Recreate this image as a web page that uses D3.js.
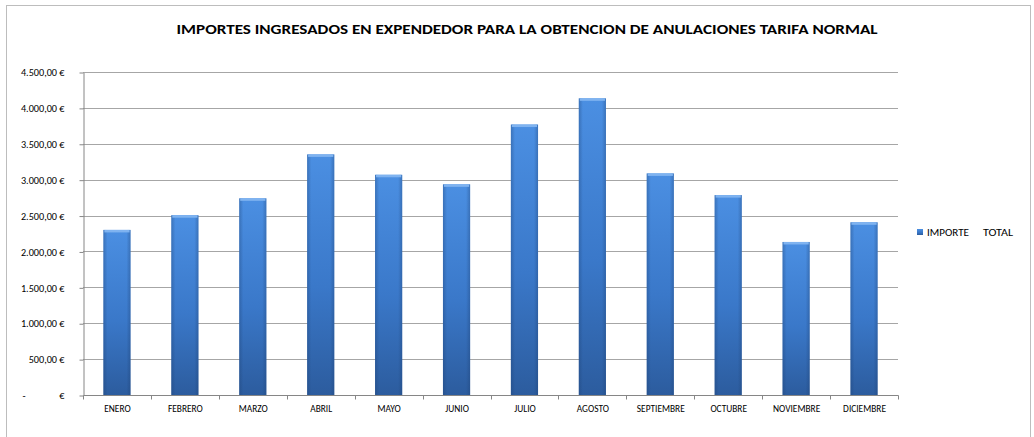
<!DOCTYPE html>
<html>
<head>
<meta charset="utf-8">
<script src="https://cdn.jsdelivr.net/npm/d3@7"></script>
<style>
  body { margin: 0; background: #fff; }
  text { font-family: Carlito, Calibri, Lato, "Open Sans", sans-serif; }
</style>
</head>
<body>
<svg id="chart" width="1034" height="437"></svg>
<script>
var months = ['ENERO', 'FEBRERO', 'MARZO', 'ABRIL', 'MAYO', 'JUNIO', 'JULIO',
              'AGOSTO', 'SEPTIEMBRE', 'OCTUBRE', 'NOVIEMBRE', 'DICIEMBRE'];
var importeTotal = [2300, 2505, 2740, 3352, 3068, 2935, 3768, 4133, 3087, 2785, 2132, 2406];
var yTicks = [0, 500, 1000, 1500, 2000, 2500, 3000, 3500, 4000, 4500];
var title = 'IMPORTES INGRESADOS EN EXPENDEDOR PARA LA OBTENCION DE ANULACIONES TARIFA NORMAL';
var seriesName = ['IMPORTE', 'TOTAL'];

var svg = d3.select('#chart');
var margin = { left: 83, right: 136, top: 72, bottom: 42 };
var W = 1034, H = 437;

// outer chart frame
svg.append('rect')
  .attr('x', 6.5).attr('y', 5.5)
  .attr('width', 1024).attr('height', 440)
  .attr('fill', '#fff').attr('stroke', '#bdbdbd');

var x = d3.scaleBand().domain(months)
  .range([margin.left, W - margin.right])
  .paddingInner(0.6).paddingOuter(0.3);

var y = d3.scaleLinear().domain([0, 4500])
  .range([H - margin.bottom, margin.top]);

var defs = svg.append('defs');
var grad = defs.append('linearGradient').attr('id', 'barGrad')
  .attr('x1', 0).attr('y1', 0).attr('x2', 0).attr('y2', 1);
grad.append('stop').attr('offset', '0%').attr('stop-color', '#4b8fe2');
grad.append('stop').attr('offset', '55%').attr('stop-color', '#3a78c9');
grad.append('stop').attr('offset', '100%').attr('stop-color', '#2c5c9e');

var side = defs.append('linearGradient').attr('id', 'sideGrad')
  .attr('x1', 0).attr('y1', 0).attr('x2', 1).attr('y2', 0);
side.append('stop').attr('offset', '0%').attr('stop-color', '#1d3f70').attr('stop-opacity', 0.35);
side.append('stop').attr('offset', '15%').attr('stop-color', '#1d3f70').attr('stop-opacity', 0);
side.append('stop').attr('offset', '85%').attr('stop-color', '#1d3f70').attr('stop-opacity', 0);
side.append('stop').attr('offset', '100%').attr('stop-color', '#1d3f70').attr('stop-opacity', 0.35);

// gridlines
svg.append('g')
  .selectAll('line').data(yTicks.slice(1)).join('line')
  .attr('x1', margin.left).attr('x2', W - margin.right)
  .attr('y1', d => Math.round(y(d)) + 0.5).attr('y2', d => Math.round(y(d)) + 0.5)
  .attr('stroke', '#a6a6a6');

// y axis
var fmt = d3.formatLocale({ decimal: ',', thousands: '.', grouping: [3], currency: ['', ' €'] }).format('$,.2f');
var yAxis = svg.append('g')
  .attr('transform', 'translate(' + (margin.left + 0.5) + ',0.5)')
  .call(d3.axisLeft(y).tickValues(yTicks).tickSize(4).tickSizeOuter(0)
    .tickFormat(d => d === 0 ? '€' : fmt(d)));
yAxis.selectAll('path, line').attr('stroke', '#868686');
yAxis.selectAll('text').attr('font-size', 10.2).attr('fill', '#000').attr('x', -19);
yAxis.selectAll('.tick').filter(d => d === 0).append('text')
  .attr('x', -58).attr('dy', '0.32em').attr('font-size', 10.2).attr('fill', '#000')
  .attr('text-anchor', 'end').text('-');

// bars
var bars = svg.append('g');
bars.selectAll('rect.bar').data(months).join('rect')
  .attr('class', 'bar')
  .attr('x', d => x(d)).attr('width', x.bandwidth())
  .attr('y', (d, i) => y(importeTotal[i]))
  .attr('height', (d, i) => y(0) - y(importeTotal[i]))
  .attr('fill', 'url(#barGrad)');
bars.selectAll('rect.side').data(months).join('rect')
  .attr('class', 'side')
  .attr('x', d => x(d)).attr('width', x.bandwidth())
  .attr('y', (d, i) => y(importeTotal[i]))
  .attr('height', (d, i) => y(0) - y(importeTotal[i]))
  .attr('fill', 'url(#sideGrad)');
bars.selectAll('rect.bevel').data(months).join('rect')
  .attr('class', 'bevel')
  .attr('x', d => x(d) + 1).attr('width', x.bandwidth() - 2)
  .attr('y', (d, i) => y(importeTotal[i]))
  .attr('height', 2.5)
  .attr('fill', '#7fb3f0');

// x axis
var xb = d3.scaleLinear().domain([0, months.length]).range([margin.left, W - margin.right]);
var xAxis = svg.append('g')
  .attr('transform', 'translate(0.5,' + (Math.round(y(0)) + 0.5) + ')');
xAxis.append('line').attr('x1', margin.left).attr('x2', W - margin.right).attr('stroke', '#868686');
xAxis.selectAll('line.tk').data(d3.range(months.length + 1)).join('line')
  .attr('class', 'tk')
  .attr('x1', d => Math.round(xb(d))).attr('x2', d => Math.round(xb(d)))
  .attr('y1', 0).attr('y2', 4).attr('stroke', '#868686');
xAxis.selectAll('text').data(months).join('text')
  .attr('x', d => x(d) + x.bandwidth() / 2).attr('y', 16.5)
  .attr('text-anchor', 'middle').attr('font-size', 9.4).attr('fill', '#000')
  .text(d => d);

// title
svg.append('text')
  .attr('x', 527).attr('y', 34)
  .attr('text-anchor', 'middle')
  .attr('font-size', 13.5).attr('font-weight', 'bold')
  .attr('textLength', 701).attr('lengthAdjust', 'spacingAndGlyphs')
  .text(title);

// legend
svg.append('rect').attr('x', 917).attr('y', 229).attr('width', 6).attr('height', 6)
  .attr('fill', 'url(#barGrad)');
svg.append('text').attr('x', 927).attr('y', 235.5)
  .attr('font-size', 10.5).attr('textLength', 42).attr('lengthAdjust', 'spacingAndGlyphs')
  .text(seriesName[0]);
svg.append('text').attr('x', 983).attr('y', 235.5)
  .attr('font-size', 10.5).attr('textLength', 30).attr('lengthAdjust', 'spacingAndGlyphs')
  .text(seriesName[1]);
</script>
</body>
</html>
